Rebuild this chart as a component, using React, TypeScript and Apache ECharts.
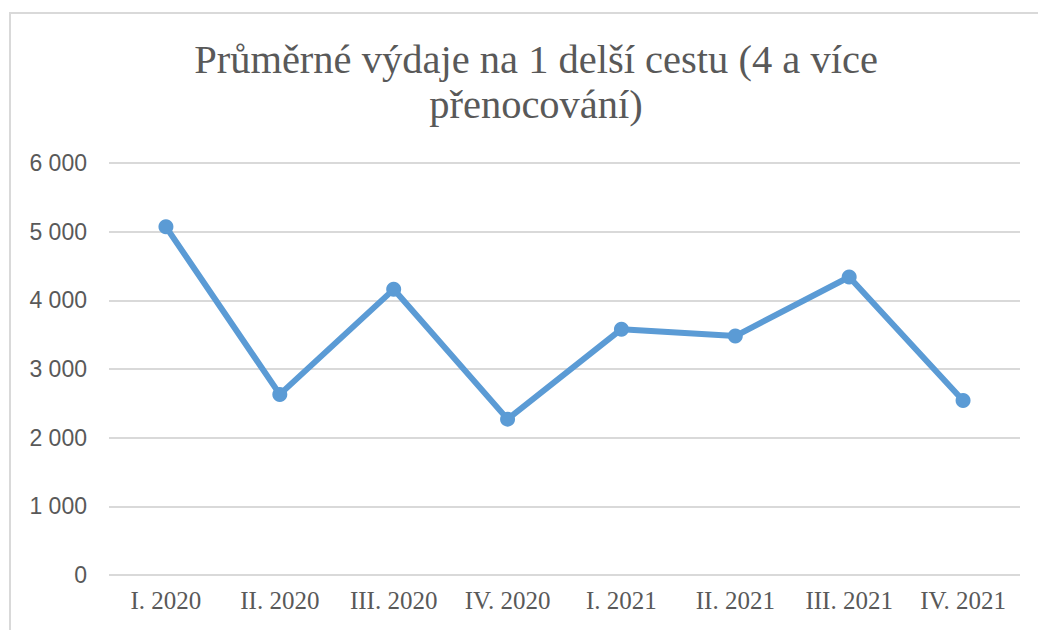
import React, { useEffect, useRef } from "react";
import * as echarts from "echarts";

const titleText = "Průměrné výdaje na 1 delší cestu (4 a více\npřenocování)";
const categories = ["I. 2020", "II. 2020", "III. 2020", "IV. 2020", "I. 2021", "II. 2021", "III. 2021", "IV. 2021"];
const values = [5070, 2630, 4160, 2270, 3580, 3480, 4340, 2540];
const yMin = 0;
const yMax = 6000;
const yStep = 1000;

function fmt(v: number): string {
  return String(v).replace(/\B(?=(\d{3})+(?!\d))/g, " ");
}

export default function App() {
  const ref = useRef<HTMLDivElement>(null);
  useEffect(() => {
    if (!ref.current) return;
    const chart = echarts.init(ref.current, null, { renderer: "svg" });
    chart.setOption({
      animation: false,
      backgroundColor: "#ffffff",
      graphic: [
        {
          type: "rect",
          shape: { x: 10, y: 13, width: 1040, height: 630 },
          style: { fill: "none", stroke: "#d9d9d9", lineWidth: 2 },
          silent: true,
        },
      ],
      title: {
        text: titleText,
        left: 531,
        textAlign: "center",
        top: 32,
        textStyle: {
          fontFamily: "Liberation Serif",
          fontSize: 40.5,
          fontWeight: "normal",
          color: "#595959",
          lineHeight: 45,
        },
      },
      grid: { left: 109, right: 18, top: 163, bottom: 55 },
      xAxis: {
        type: "category",
        data: categories,
        boundaryGap: true,
        axisLine: { show: false },
        axisTick: { show: false },
        axisLabel: {
          fontFamily: "Liberation Serif",
          fontSize: 25,
          color: "#595959",
          margin: 13,
          interval: 0,
        },
      },
      yAxis: {
        type: "value",
        min: yMin,
        max: yMax,
        interval: yStep,
        axisLine: { show: false },
        axisTick: { show: false },
        splitLine: { lineStyle: { color: "#d9d9d9", width: 2 } },
        axisLabel: {
          fontFamily: "Liberation Sans",
          fontSize: 23,
          color: "#595959",
          margin: 22,
          formatter: (v: number) => fmt(v),
        },
      },
      series: [
        {
          type: "line",
          data: values,
          symbol: "circle",
          symbolSize: 15,
          lineStyle: { color: "#5b9bd5", width: 6 },
          itemStyle: { color: "#5b9bd5" },
        },
      ],
    });
    return () => chart.dispose();
  }, []);
  return (
    <div
      ref={ref}
      style={{ position: "fixed", left: 0, top: 0, width: 1038, height: 630 }}
    />
  );
}
